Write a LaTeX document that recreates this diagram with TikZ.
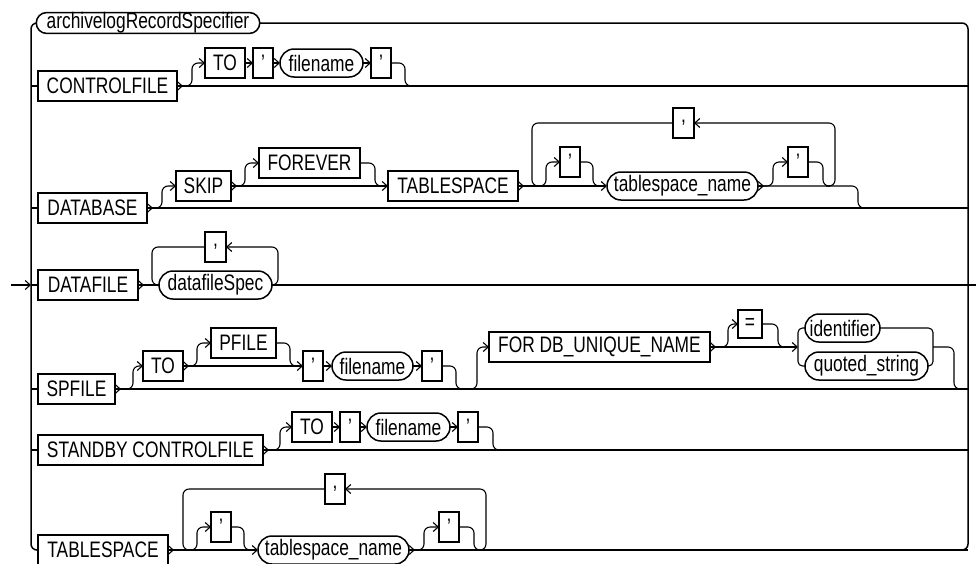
\documentclass[tikz,border=0pt]{standalone}
\usepackage{fontspec}
\setmainfont{Liberation Sans}[FakeStretch=0.775]
\usetikzlibrary{arrows.meta,shapes.misc}
\tikzset{
  boxfont/.style={font=\fontsize{22.4}{23}\selectfont},
  kw/.style={draw, line width=1.5pt, rectangle, minimum height=30pt, inner sep=0pt, outer sep=0pt, boxfont},
  nt/.style={draw, line width=1.5pt, rounded rectangle, minimum height=28pt, inner sep=0pt, outer sep=0pt, boxfont},
  rr/.style={rounded corners=6pt},
  rb/.style={rounded corners=4.5pt},
  rail/.style={line width=1.5pt},
  arr/.style={-{Straight Barb[length=5pt,width=9pt,line width=1.1pt]}},
}
\newcommand\exitchev[1]{\draw[arr] (#1.east) -- ++(6,0);}
\begin{document}
\begin{tikzpicture}[x=1pt,y=-1pt,line width=1.1pt]
\useasboundingbox (0,0) rectangle (976,563);

% ---------- nodes ----------
\node[nt, minimum width=220pt, minimum height=19pt] (ars) at (148,23) {archivelogRecordSpecifier};

\node[kw, minimum width=139pt] (cf) at (107.5,86) {CONTROLFILE};
\node[kw, minimum width=40pt] (to1) at (225,63) {TO};
\node[kw, minimum width=20pt] (q1a) at (263,63) {'};
\node[nt, minimum width=83pt] (fn1) at (321.5,63) {filename};
\node[kw, minimum width=20pt] (q1b) at (381,63) {'};

\node[kw, minimum width=109pt] (db) at (92.5,208) {DATABASE};
\node[kw, minimum width=55pt] (skip) at (203.5,186) {SKIP};
\node[kw, minimum width=101pt] (forever) at (309.5,163) {FOREVER};
\node[kw, minimum width=130pt] (tbs) at (453,186) {TABLESPACE};
\node[kw, minimum width=20pt] (q2a) at (570,162) {'};
\node[nt, minimum width=151pt] (tsn2) at (682.5,186) {tablespace\_name};
\node[kw, minimum width=20pt] (q2b) at (798,162) {'};
\node[kw, minimum width=21pt] (c2) at (683.5,123) {,};

\node[kw, minimum width=100pt] (df) at (88,285) {DATAFILE};
\node[nt, minimum width=113pt] (dfs) at (215.5,285) {datafileSpec};
\node[kw, minimum width=21pt] (c3) at (215.5,247) {,};

\node[kw, minimum width=77pt] (sp) at (76.5,389) {SPFILE};
\node[kw, minimum width=40pt] (to4) at (163,366) {TO};
\node[kw, minimum width=65pt] (pf) at (243.5,343) {PFILE};
\node[kw, minimum width=20pt] (q4a) at (313,366) {'};
\node[nt, minimum width=81pt] (fn4) at (372.5,366) {filename};
\node[kw, minimum width=20pt] (q4b) at (432,366) {'};
\node[kw, minimum width=221pt] (fdb) at (599.5,347) {FOR DB\_UNIQUE\_NAME};
\node[kw, minimum width=24pt, minimum height=28pt] (eq) at (750,324) {=};
\node[nt, minimum width=75pt] (idf) at (842.5,328) {identifier};
\node[nt, minimum width=123pt] (qs) at (866.5,366) {quoted\_string};

\node[kw, minimum width=225pt] (sb) at (150.5,450) {STANDBY CONTROLFILE};
\node[kw, minimum width=40pt] (to5) at (312,427) {TO};
\node[kw, minimum width=20pt] (q5a) at (350,427) {'};
\node[nt, minimum width=83pt] (fn5) at (408.5,427) {filename};
\node[kw, minimum width=20pt] (q5b) at (468,427) {'};

\node[kw, minimum width=130pt] (ts) at (103,550) {TABLESPACE};
\node[kw, minimum width=20pt] (q6a) at (221,527) {'};
\node[nt, minimum width=151pt] (tsn6) at (333.5,550) {tablespace\_name};
\node[kw, minimum width=20pt] (q6b) at (449,527) {'};
\node[kw, minimum width=20pt] (c6) at (335,489) {,};

\coordinate (start) at (11,285);
\coordinate (finish) at (976,285);

% ---------- rails ----------
\draw[rail,rr] (ars.west) -| (31,550) -- (ts.west);
\draw[rail,rr] (ars.east) -| (968,550) -- (930,550);
\draw[arr] (start) -- (31,285);
\draw (968,285) -- (finish);

% ---------- row 1 ----------
\draw (31,86) -- (cf.west);
\exitchev{cf}
\draw (cf.east) -- (968,86);
\draw[rr,arr] (cf.east) -- (192,86) |- (to1.west);
\draw[arr] (to1.east) -- (q1a.west);
\draw[arr] (q1a.east) -- (fn1.west);
\draw[arr] (fn1.east) -- (q1b.west);
\draw[rr] (q1b.east) -| (405,86) -- (415,86);

% ---------- row 2 ----------
\draw (31,208) -- (db.west);
\exitchev{db}
\draw (db.east) -- (968,208);
\draw[rr,arr] (db.east) -- (162,208) |- (skip.west);
\exitchev{skip}
\draw[rr,arr] (skip.east) -- (245,186) |- (forever.west);
\draw[arr] (skip.east) -- (tbs.west);
\draw[rr] (forever.east) -| (375,186) -- (382,186);
\exitchev{tbs}
\draw[arr] (tbs.east) -- (tsn2.west);
\draw[rr,arr] (tbs.east) -- (546,186) |- (q2a.west);
\draw[rr] (q2a.east) -| (593,186) -- (600,186);
\exitchev{tsn2}
\draw[rr] (tsn2.east) -| (858,208) -- (868,208);
\draw[rr,arr] (tsn2.east) -- (773,186) |- (q2b.west);
\draw[rr] (q2b.east) -| (823,186) -- (830,186);
\draw[rr,arr] (826,186) -- (835,186) |- (c2.east);
\draw[rr] (c2.west) -| (532,186) -- (540,186);

% ---------- row 3 ----------
\draw (31,285) -- (df.west);
\exitchev{df}
\draw (df.east) -- (dfs.west);
\draw (dfs.east) -- (968,285);
\draw[rr,arr] (dfs.east) -- (278,285) |- (c3.east);
\draw[rr] (c3.west) -| (152,285) -- (dfs.west);

% ---------- row 4 ----------
\draw (31,389) -- (sp.west);
\exitchev{sp}
\draw (sp.east) -- (968,389);
\draw[rr,arr] (sp.east) -- (133,389) |- (to4.west);
\exitchev{to4}
\draw[rr,arr] (to4.east) -- (197,366) |- (pf.west);
\draw[arr] (to4.east) -- (q4a.west);
\draw[rr] (pf.east) -| (290,366) -- (297,366);
\draw[arr] (q4a.east) -- (fn4.west);
\draw[arr] (fn4.east) -- (q4b.west);
\draw[rr] (q4b.east) -| (456,389) -- (464,389);
\draw[rr,arr] (464,389) -- (477,389) |- (fdb.west);
\exitchev{fdb}
\draw[rr,arr] (fdb.east) -- (728,347) |- (eq.west);
\draw[rr] (eq.east) -| (778,347) -- (785,347);
\draw[arr] (fdb.east) -- (798,347);
\draw[rb] (idf.west) -| (798,347) |- (qs.west);
\draw[rb] (idf.east) -| (933,347) |- (qs.east);
\draw[rr] (933,347) -| (954,389) -- (962,389);

% ---------- row 5 ----------
\draw (31,450) -- (sb.west);
\exitchev{sb}
\draw (sb.east) -- (968,450);
\draw[rr,arr] (sb.east) -- (280,450) |- (to5.west);
\draw[arr] (to5.east) -- (q5a.west);
\draw[arr] (q5a.east) -- (fn5.west);
\draw[arr] (fn5.east) -- (q5b.west);
\draw[rr] (q5b.east) -| (493,450) -- (500,450);

% ---------- row 6 ----------
\exitchev{ts}
\draw[arr] (ts.east) -- (tsn6.west);
\draw[rr,arr] (ts.east) -- (197,550) |- (q6a.west);
\draw[rr] (q6a.east) -| (244,550) -- (251,550);
\exitchev{tsn6}
\draw (tsn6.east) -- (968,550);
\draw[rr,arr] (tsn6.east) -- (424,550) |- (q6b.west);
\draw[rr] (q6b.east) -| (474,550) -- (481,550);
\draw[rr,arr] (478,550) -- (486,550) |- (c6.east);
\draw[rr] (c6.west) -| (183,550) -- (190,550);
\end{tikzpicture}
\end{document}
